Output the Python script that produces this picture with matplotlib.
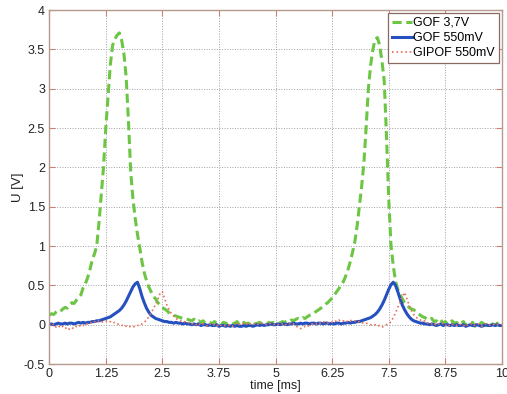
import matplotlib.pyplot as plt
import numpy as np

plt.rcParams['font.family'] = ['Liberation Sans', 'DejaVu Sans']

# sample times [ms], 0.05 ms step
t = np.arange(0, 201) * 0.05

gof_37 = [
    0.12, 0.14, 0.13, 0.16, 0.18, 0.17, 0.20, 0.22, 0.21, 0.25, 0.28, 0.27, 0.31, 0.35, 0.38, 0.47, 0.52, 0.60, 0.70, 0.82,
    0.90, 1.00, 1.30, 1.65, 2.00, 2.50, 2.90, 3.30, 3.55, 3.63, 3.68, 3.71, 3.62, 3.45, 3.15, 2.60, 1.95, 1.60, 1.35, 1.15,
    0.98, 0.80, 0.66, 0.56, 0.48, 0.42, 0.36, 0.33, 0.28, 0.25, 0.22, 0.20, 0.18, 0.15, 0.14, 0.12, 0.11, 0.10, 0.09, 0.08,
    0.08, 0.07, 0.06, 0.05, 0.07, 0.04, 0.05, 0.03, 0.05, 0.02, 0.04, 0.03, 0.01, 0.04, 0.02, 0.03, 0.00, 0.03, 0.02, 0.01,
    0.03, 0.01, 0.02, 0.04, 0.00, 0.02, 0.03, 0.01, 0.02, 0.00, 0.03, 0.01, 0.02, 0.03, 0.01, 0.02, 0.00, 0.03, 0.02, 0.03,
    0.02, 0.03, 0.02, 0.04, 0.03, 0.05, 0.04, 0.06, 0.05, 0.07, 0.08, 0.07, 0.09, 0.08, 0.10, 0.12, 0.13, 0.15, 0.17, 0.19,
    0.21, 0.23, 0.26, 0.28, 0.31, 0.34, 0.38, 0.42, 0.46, 0.51, 0.55, 0.62, 0.70, 0.80, 0.92, 1.05, 1.25, 1.50, 1.75, 2.05,
    2.50, 3.00, 3.30, 3.50, 3.63, 3.65, 3.55, 3.35, 3.10, 2.40, 1.60, 1.00, 0.75, 0.55, 0.45, 0.38, 0.33, 0.28, 0.25, 0.22,
    0.20, 0.19, 0.17, 0.14, 0.12, 0.10, 0.09, 0.07, 0.06, 0.08, 0.04, 0.05, 0.03, 0.06, 0.02, 0.04, 0.01, 0.03, 0.05, 0.02,
    0.03, 0.00, 0.02, 0.04, -0.01, 0.02, 0.01, 0.03, -0.02, 0.02, 0.00, 0.03, 0.01, -0.01, 0.02, 0.00, 0.01, -0.01, 0.02, 0.00,
    0.01,
]

gof_550 = [
    0.00, 0.01, 0.00, 0.01, 0.02, 0.01, 0.01, 0.02, 0.01, 0.02, 0.02, 0.01, 0.02, 0.03, 0.02, 0.03, 0.02, 0.03, 0.03, 0.04,
    0.04, 0.05, 0.05, 0.06, 0.07, 0.08, 0.09, 0.10, 0.12, 0.14, 0.16, 0.18, 0.21, 0.25, 0.30, 0.36, 0.42, 0.48, 0.52, 0.54,
    0.46, 0.36, 0.28, 0.21, 0.16, 0.12, 0.10, 0.08, 0.07, 0.06, 0.05, 0.04, 0.04, 0.03, 0.03, 0.02, 0.03, 0.02, 0.02, 0.01,
    0.02, 0.01, 0.01, 0.00, 0.01, 0.00, 0.01, -0.01, 0.00, 0.00, -0.01, 0.00, -0.01, -0.01, 0.00, -0.02, -0.01, -0.01, -0.02, -0.01,
    -0.02, -0.01, -0.02, -0.01, -0.02, -0.02, -0.01, -0.02, -0.01, -0.01, -0.02, -0.01, 0.00, -0.01, 0.00, -0.01, 0.00, 0.00, 0.01, 0.00,
    0.00, 0.01, 0.00, 0.01, 0.01, 0.00, 0.01, 0.01, 0.02, 0.01, 0.01, 0.02, 0.01, 0.02, 0.02, 0.01, 0.02, 0.02, 0.01, 0.02,
    0.02, 0.01, 0.02, 0.02, 0.01, 0.02, 0.01, 0.02, 0.02, 0.01, 0.02, 0.02, 0.03, 0.02, 0.03, 0.03, 0.04, 0.04, 0.05, 0.06,
    0.07, 0.08, 0.09, 0.11, 0.13, 0.16, 0.20, 0.25, 0.31, 0.38, 0.45, 0.51, 0.54, 0.50, 0.42, 0.33, 0.25, 0.19, 0.14, 0.10,
    0.07, 0.05, 0.04, 0.03, 0.02, 0.02, 0.01, 0.01, 0.00, 0.01, 0.00, -0.01, 0.00, 0.01, -0.01, 0.00, 0.00, -0.01, 0.00, -0.01,
    0.00, -0.01, -0.01, 0.00, -0.02, -0.01, 0.00, -0.01, -0.01, 0.00, -0.01, -0.02, -0.01, 0.00, -0.01, -0.01, 0.00, -0.01, 0.00, -0.01,
    -0.01,
]

gipof_550 = [
    0.00, -0.02, 0.01, -0.03, -0.01, -0.04, -0.02, -0.05, -0.03, -0.06, -0.04, -0.05, -0.02, -0.03, 0.00, -0.01, 0.02, 0.01, 0.03, 0.02,
    0.04, 0.03, 0.05, 0.03, 0.04, 0.05, 0.03, 0.04, 0.02, 0.03, 0.01, 0.00, -0.01, 0.00, -0.02, -0.01, -0.03, -0.02, -0.03, -0.01,
    -0.01, 0.01, 0.03, 0.06, 0.10, 0.15, 0.20, 0.26, 0.32, 0.40, 0.42, 0.33, 0.25, 0.19, 0.14, 0.11, 0.08, 0.06, 0.05, 0.03,
    0.04, 0.02, 0.03, 0.01, 0.02, 0.00, 0.02, -0.01, 0.01, 0.00, -0.02, 0.01, -0.01, 0.00, -0.02, 0.01, -0.01, 0.00, -0.02, -0.01,
    0.00, -0.02, 0.01, 0.02, 0.00, 0.03, 0.01, 0.02, -0.01, 0.01, 0.00, 0.02, 0.01, 0.00, 0.02, 0.01, 0.00, 0.01, 0.02, 0.00,
    0.01, 0.00, 0.02, 0.01, -0.01, 0.01, 0.02, 0.00, 0.01, -0.02, -0.03, -0.05, -0.04, -0.02, -0.03, 0.00, 0.01, 0.02, 0.01, 0.03,
    0.02, 0.04, 0.03, 0.02, 0.04, 0.03, 0.05, 0.04, 0.06, 0.04, 0.05, 0.03, 0.05, 0.06, 0.04, 0.05, 0.03, 0.04, 0.02, 0.03,
    0.02, 0.01, 0.00, -0.01, 0.00, -0.02, -0.01, -0.03, -0.02, 0.00, 0.01, 0.04, 0.09, 0.15, 0.22, 0.29, 0.36, 0.41, 0.33, 0.25,
    0.18, 0.13, 0.10, 0.07, 0.06, 0.04, 0.05, 0.02, 0.03, 0.01, 0.02, -0.01, 0.01, 0.00, 0.02, -0.01, 0.01, -0.02, 0.00, 0.01,
    -0.01, 0.01, 0.00, -0.02, 0.01, -0.01, 0.00, 0.02, -0.01, 0.00, 0.01, -0.02, 0.00, 0.01, -0.01, 0.00, 0.01, -0.01, 0.00, 0.01,
    0.00,
]

x_ticks = [0, 1.25, 2.5, 3.75, 5, 6.25, 7.5, 8.75, 10]
x_labels = ['0', '1.25', '2.5', '3.75', '5', '6.25', '7.5', '8.75', '10']
y_ticks = [-0.5, 0, 0.5, 1, 1.5, 2, 2.5, 3, 3.5, 4]
y_labels = ['-0.5', '0', '0.5', '1', '1.5', '2', '2.5', '3', '3.5', '4']

frame_col = '#b59a8e'

fig = plt.figure(figsize=(5.07, 3.94), dpi=100)
ax = fig.add_axes([0.097, 0.076, 0.893, 0.8985])

ax.plot(t, gof_37, '--', color='#6cc644', linewidth=2.2, dashes=(3, 1.5), label='GOF 3,7V')
ax.plot(t, gof_550, '-', color='#2450c0', linewidth=2.2, label='GOF 550mV')
ax.plot(t, gipof_550, ':', color='#e8705a', linewidth=1.2, label='GIPOF 550mV')

ax.set_xlim(0, 10)
ax.set_ylim(-0.5, 4)
ax.set_xticks(x_ticks)
ax.set_xticklabels(x_labels)
ax.set_yticks(y_ticks)
ax.set_yticklabels(y_labels)
ax.tick_params(direction='in', top=True, right=True, length=4, width=0.8,
               color='#d08070', labelsize=9, labelcolor='#222222', pad=3)
for s in ax.spines.values():
    s.set_color(frame_col)
    s.set_linewidth(1.0)
ax.grid(True, linestyle=':', color='#a0a0a0', linewidth=0.7)
ax.set_axisbelow(True)

ax.set_xlabel('time [ms]', fontsize=9, labelpad=0, color='#222222')
ax.set_ylabel('U [V]', fontsize=9.5, color='#222222')
ax.yaxis.set_label_coords(-0.056, 0.5)

leg = ax.legend(loc='upper right', fontsize=9, handlelength=1.6, handletextpad=0.1,
                borderpad=0.3, labelspacing=0.25, borderaxespad=0.25, fancybox=False,
                framealpha=1)
leg.get_frame().set_edgecolor('#8a6a60')
leg.get_frame().set_linewidth(0.9)

fig.savefig('out.png', dpi=100)
